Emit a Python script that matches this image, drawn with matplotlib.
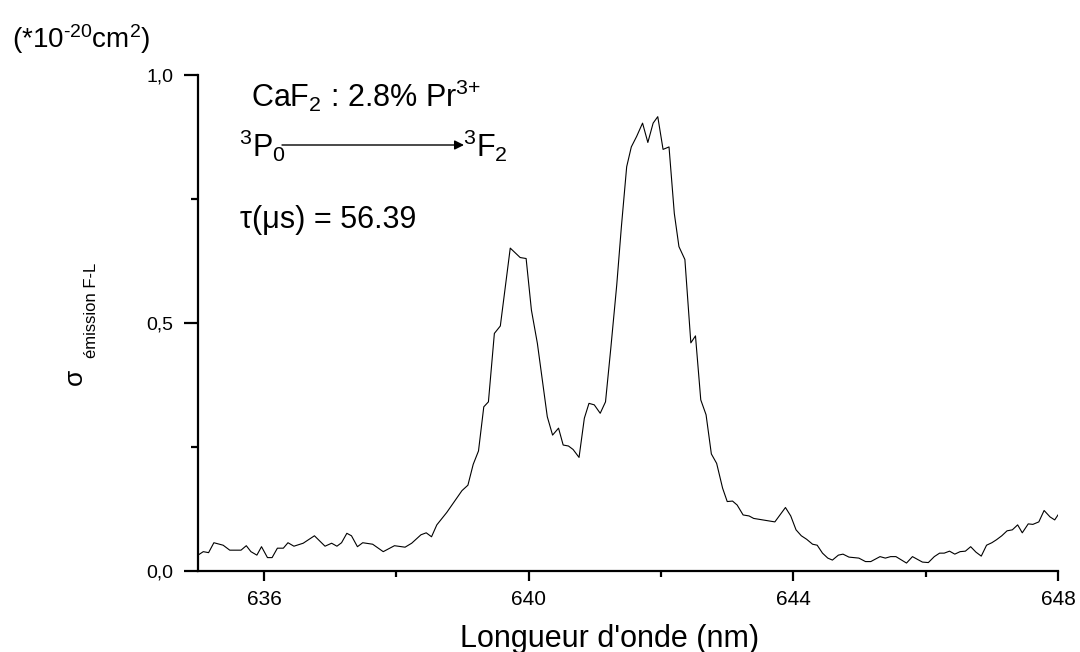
import matplotlib
matplotlib.use("Agg")
import matplotlib.pyplot as plt
from matplotlib.ticker import FixedLocator, FuncFormatter

plt.rcParams['font.family'] = ['Liberation Sans', 'DejaVu Sans']
plt.rcParams['mathtext.fontset'] = 'custom'
plt.rcParams['mathtext.rm'] = 'Liberation Sans'
plt.rcParams['mathtext.it'] = 'Liberation Sans:italic'
plt.rcParams['mathtext.bf'] = 'Liberation Sans:bold'
plt.rcParams['mathtext.default'] = 'regular'

# Spectre d'emission
wavelength = [
    635.00, 635.08, 635.16, 635.24, 635.38, 635.48, 635.65, 635.73, 635.80, 635.89,
    635.96, 636.05, 636.12, 636.20, 636.29, 636.36, 636.45, 636.59, 636.76, 636.92,
    637.02, 637.10, 637.17, 637.25, 637.32, 637.41, 637.49, 637.64, 637.80, 637.97,
    638.13, 638.23, 638.37, 638.45, 638.53, 638.61, 638.76, 638.87, 638.99, 639.08,
    639.16, 639.24, 639.32, 639.39, 639.48, 639.57, 639.72, 639.87, 639.96, 640.04,
    640.13, 640.28, 640.36, 640.45, 640.52, 640.60, 640.67, 640.76, 640.84, 640.91,
    640.99, 641.08, 641.16, 641.24, 641.33, 641.40, 641.48, 641.55, 641.63, 641.72,
    641.80, 641.88, 641.95, 642.03, 642.12, 642.20, 642.27, 642.36, 642.45, 642.52,
    642.60, 642.68, 642.76, 642.84, 642.93, 643.00, 643.08, 643.15, 643.24, 643.33,
    643.40, 643.72, 643.88, 643.96, 644.04, 644.12, 644.20, 644.29, 644.36, 644.44,
    644.52, 644.59, 644.68, 644.75, 644.84, 644.99, 645.09, 645.17, 645.31, 645.39,
    645.47, 645.55, 645.71, 645.80, 645.95, 646.04, 646.13, 646.21, 646.28, 646.36,
    646.44, 646.52, 646.60, 646.68, 646.76, 646.84, 646.92, 647.00, 647.07, 647.15,
    647.23, 647.31, 647.39, 647.46, 647.55, 647.62, 647.71, 647.79, 647.88, 647.95,
    648.00,
]
sigma = [
    0.032, 0.039, 0.037, 0.057, 0.052, 0.042, 0.042, 0.051, 0.039, 0.032,
    0.049, 0.027, 0.027, 0.046, 0.046, 0.057, 0.050, 0.056, 0.071, 0.050,
    0.056, 0.050, 0.057, 0.076, 0.071, 0.049, 0.057, 0.054, 0.039, 0.051,
    0.048, 0.056, 0.073, 0.077, 0.069, 0.093, 0.118, 0.139, 0.162, 0.173,
    0.215, 0.242, 0.331, 0.341, 0.479, 0.494, 0.651, 0.632, 0.630, 0.526,
    0.459, 0.311, 0.274, 0.288, 0.254, 0.252, 0.245, 0.229, 0.308, 0.338,
    0.335, 0.318, 0.341, 0.449, 0.577, 0.694, 0.815, 0.855, 0.876, 0.903,
    0.864, 0.903, 0.916, 0.850, 0.855, 0.721, 0.654, 0.628, 0.460, 0.474,
    0.345, 0.315, 0.236, 0.217, 0.167, 0.140, 0.141, 0.133, 0.113, 0.111,
    0.106, 0.099, 0.128, 0.111, 0.083, 0.071, 0.064, 0.054, 0.052, 0.036,
    0.026, 0.022, 0.032, 0.034, 0.028, 0.026, 0.019, 0.019, 0.029, 0.026,
    0.029, 0.029, 0.016, 0.029, 0.018, 0.017, 0.029, 0.036, 0.036, 0.040,
    0.034, 0.039, 0.040, 0.049, 0.038, 0.030, 0.052, 0.057, 0.063, 0.071,
    0.081, 0.083, 0.093, 0.077, 0.095, 0.094, 0.099, 0.122, 0.109, 0.103,
    0.113,
]

x_major = [636, 640, 644, 648]
x_minor = [638, 642, 646]
y_major = [0.0, 0.5, 1.0]
y_minor = [0.25, 0.75]

W, H = 1080, 652


def fx(px):
    return px / W


def fy(py):
    return 1 - py / H


fig = plt.figure(figsize=(10.8, 6.52), dpi=100)
ax = fig.add_axes([fx(198), fy(571), (1058 - 198) / W, (571 - 75) / H])

ax.plot(wavelength, sigma, color='black', lw=0.8)

ax.set_xlim(635, 648)
ax.set_ylim(0, 1.0)

for side in ['top', 'right']:
    ax.spines[side].set_visible(False)
for side in ['left', 'bottom']:
    ax.spines[side].set_linewidth(1.6)

ax.xaxis.set_major_locator(FixedLocator(x_major))
ax.xaxis.set_minor_locator(FixedLocator(x_minor))
ax.yaxis.set_major_locator(FixedLocator(y_major))
ax.yaxis.set_minor_locator(FixedLocator(y_minor))
ax.yaxis.set_major_formatter(FuncFormatter(lambda v, p: f"{v:.1f}".replace('.', ',')))

ax.tick_params(axis='x', which='major', direction='out', length=7.5, width=1.6,
               labelsize=15, pad=6)
ax.tick_params(axis='x', which='minor', direction='out', length=4, width=1.6)
ax.tick_params(axis='y', which='major', direction='out', length=10, width=1.6,
               labelsize=14, pad=8)
ax.tick_params(axis='y', which='minor', direction='out', length=5, width=1.6)

# titres des axes
fig.text(fx(610), fy(647), "Longueur d'onde (nm)", fontsize=22,
         ha='center', va='baseline')
fig.text(fx(12), fy(48), r"(*10$^{\text{-}20}$cm$^{2}$)", fontsize=20,
         ha='left', va='baseline')
fig.text(fx(75), fy(377), "σ", fontsize=19, rotation=90,
         ha='center', va='center')
fig.text(fx(92), fy(358), "émission F-L", fontsize=12, rotation=90,
         ha='center', va='bottom')

# annotations
fig.text(fx(251), fy(107), r"CaF$_2$ : 2.8% Pr$^{3{+}}$", fontsize=22,
         ha='left', va='baseline')
fig.text(fx(239), fy(157), r"$^3$P$_0$", fontsize=22, ha='left', va='baseline')
fig.text(fx(463), fy(157), r"$^3$F$_2$", fontsize=22, ha='left', va='baseline')
ax.annotate('', xy=(464, H - 145), xytext=(282, H - 145),
            xycoords='figure pixels', textcoords='figure pixels',
            arrowprops=dict(arrowstyle='-|>', color='black', lw=1,
                            mutation_scale=14, shrinkA=0, shrinkB=0))
fig.text(fx(240), fy(228), "τ(μs) = 56.39", fontsize=22,
         ha='left', va='baseline')

fig.savefig("out.png", dpi=100)
